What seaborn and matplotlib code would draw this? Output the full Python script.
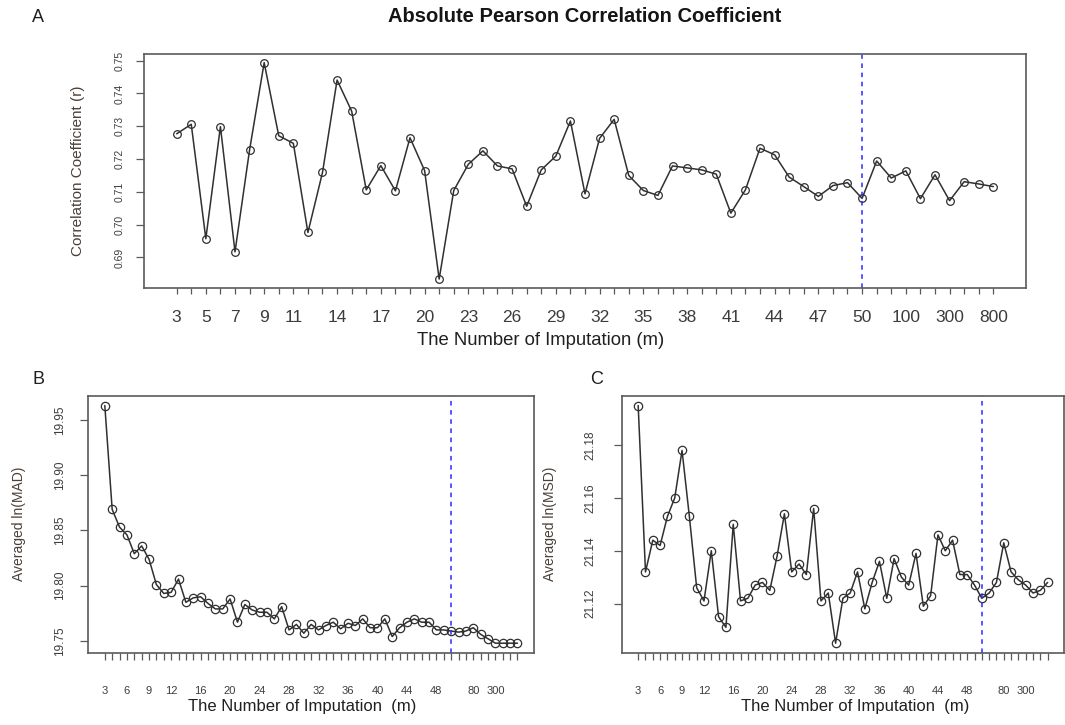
import numpy as np
import pandas as pd
import matplotlib
matplotlib.use("Agg")
import matplotlib.pyplot as plt
import seaborn as sns

# ---- data -------------------------------------------------------------
m_a = list(range(3, 51)) + [60, 80, 100, 150, 200, 300, 400, 500, 800]
m_bc = list(range(3, 51)) + [60, 70, 80, 100, 200, 300, 400, 500, 800]

shown_a = [3, 5, 7, 9, 11, 14, 17, 20, 23, 26, 29, 32, 35, 38, 41, 44, 47,
           50, 100, 300, 800]
shown_bc = [3, 6, 9, 12, 16, 20, 24, 28, 32, 36, 40, 44, 48, 80, 300]

r_values = [0.7277, 0.7306, 0.6957, 0.7299, 0.6917, 0.7228, 0.7494, 0.7271,
            0.7248, 0.6976, 0.7159, 0.7441, 0.7346, 0.7106, 0.7180, 0.7103,
            0.7265, 0.7165, 0.6834, 0.7104, 0.7184, 0.7225, 0.7179, 0.7170,
            0.7056, 0.7167, 0.7209, 0.7316, 0.7094, 0.7263, 0.7321, 0.7150,
            0.7104, 0.7089, 0.7179, 0.7173, 0.7167, 0.7154, 0.7035, 0.7106,
            0.7233, 0.7213, 0.7145, 0.7116, 0.7086, 0.7119, 0.7128, 0.7080,
            0.7194, 0.7142, 0.7164, 0.7079, 0.7152, 0.7073, 0.7131, 0.7124,
            0.7116]

mad_values = [19.963, 19.869, 19.853, 19.846, 19.829, 19.836, 19.824, 19.801,
              19.793, 19.794, 19.806, 19.785, 19.789, 19.790, 19.784, 19.779,
              19.779, 19.788, 19.767, 19.783, 19.778, 19.776, 19.776, 19.770,
              19.781, 19.760, 19.765, 19.757, 19.765, 19.760, 19.764, 19.767,
              19.761, 19.766, 19.764, 19.770, 19.762, 19.762, 19.770, 19.754,
              19.762, 19.767, 19.770, 19.767, 19.767, 19.760, 19.760, 19.759,
              19.758, 19.759, 19.762, 19.756, 19.752, 19.748, 19.748, 19.748,
              19.748]

msd_values = [21.195, 21.132, 21.144, 21.142, 21.153, 21.160, 21.178, 21.153,
              21.126, 21.121, 21.140, 21.115, 21.111, 21.150, 21.121, 21.122,
              21.127, 21.128, 21.125, 21.138, 21.154, 21.132, 21.135, 21.131,
              21.156, 21.121, 21.124, 21.105, 21.122, 21.124, 21.132, 21.118,
              21.128, 21.136, 21.122, 21.137, 21.130, 21.127, 21.139, 21.119,
              21.123, 21.146, 21.140, 21.144, 21.131, 21.131, 21.127, 21.122,
              21.124, 21.128, 21.143, 21.132, 21.129, 21.127, 21.124, 21.125,
              21.128]

yticks_a = [0.69, 0.70, 0.71, 0.72, 0.73, 0.74, 0.75]
yticks_b = [19.75, 19.80, 19.85, 19.90, 19.95]
yticks_c = [21.12, 21.14, 21.16, 21.18]

cutoff_m = 50

# ---- style ------------------------------------------------------------
sns.set_style("ticks")
plt.rcParams["font.family"] = ["Liberation Sans", "DejaVu Sans"]

W, H = 1065, 725
fig = plt.figure(figsize=(W / 100, H / 100), dpi=100)

TXT = "#3c3c3c"
LINE = "#303030"
FRAME = "#5a5a5a"


def px_axes(left, top, right, bottom):
    return fig.add_axes([left / W, 1 - bottom / H, (right - left) / W,
                         (bottom - top) / H])


def draw_panel(ax, m_list, values, shown, yticks, xlab, ylab, xlab_px,
               ylab_px, xt_size, yt_size, xl_size, yl_size, ms,
               xtick_len, ytick_len, xpad, ypad):
    df = pd.DataFrame({"pos": np.arange(len(m_list)), "m": m_list,
                       "value": values})
    sns.lineplot(data=df, x="pos", y="value", ax=ax, color=LINE,
                 linewidth=1.1, marker="o", markersize=ms,
                 markerfacecolor="none", markeredgecolor=LINE,
                 markeredgewidth=0.9)
    cut = df.loc[df["m"] == cutoff_m, "pos"].iloc[0]
    ax.axvline(cut, color="#2a2aff", linestyle=(0, (3, 3)), linewidth=1.1)
    ax.margins(x=0.04, y=0.04)

    ax.set_xticks(df["pos"])
    ax.set_xticklabels([str(m) if m in shown else "" for m in m_list],
                       fontsize=xt_size, color=TXT)
    ax.set_yticks(yticks)
    ax.set_yticklabels([f"{v:.2f}" for v in yticks], rotation=90,
                       va="center", fontsize=yt_size, color=TXT)
    ax.tick_params(axis="x", length=xtick_len, width=0.9, color=FRAME,
                   pad=xpad, direction="out")
    ax.tick_params(axis="y", length=ytick_len, width=0.9, color=FRAME,
                   pad=ypad, direction="out")
    for s in ax.spines.values():
        s.set_visible(True)
        s.set_color(FRAME)
        s.set_linewidth(1.2)

    # axis titles positioned in figure pixels
    bbox = ax.get_position()
    ax.set_xlabel(xlab, fontsize=xl_size, color="#202020")
    ax.xaxis.label.set_va("center")
    fx = (xlab_px[0] / W - bbox.x0) / bbox.width
    fy = ((1 - xlab_px[1] / H) - bbox.y0) / bbox.height
    ax.xaxis.set_label_coords(fx, fy)

    ax.set_ylabel(ylab, fontsize=yl_size, color="#4a4038")
    ax.yaxis.label.set_va("center")
    gx = (ylab_px[0] / W - bbox.x0) / bbox.width
    gy = ((1 - ylab_px[1] / H) - bbox.y0) / bbox.height
    ax.yaxis.set_label_coords(gx, gy)


# Panel A: absolute Pearson correlation
ax_a = px_axes(144, 54, 1026, 287.7)
draw_panel(ax_a, m_a, r_values, shown_a, yticks_a,
           "The Number of Imputation (m)", "Correlation Coefficient (r)",
           (541, 340), (78, 171),
           xt_size=12.5, yt_size=7.5, xl_size=13.3, yl_size=11, ms=5.5,
           xtick_len=4, ytick_len=6, xpad=12, ypad=8)
fig.text(585 / W, 1 - 16 / H, "Absolute Pearson Correlation Coefficient",
         ha="center", va="center", fontsize=14.5, fontweight="bold",
         color="#151515")
fig.text(38 / W, 1 - 18 / H, "A", ha="center", va="center", fontsize=13,
         color="#202020")

# Panel B: averaged ln(MAD)
ax_b = px_axes(88.3, 396, 534, 652.7)
draw_panel(ax_b, m_bc, mad_values, shown_bc, yticks_b,
           "The Number of Imputation  (m)", "Averaged ln(MAD)",
           (302, 706), (19, 524),
           xt_size=8, yt_size=8.5, xl_size=12, yl_size=10, ms=6,
           xtick_len=5, ytick_len=6, xpad=19, ypad=10)
fig.text(38 / W, 1 - 379 / H, "B", ha="center", va="center", fontsize=13,
         color="#202020")

# Panel C: averaged ln(MSD)
ax_c = px_axes(621.8, 396, 1064, 652.7)
draw_panel(ax_c, m_bc, msd_values, shown_bc, yticks_c,
           "The Number of Imputation  (m)", "Averaged ln(MSD)",
           (855, 706), (550, 524),
           xt_size=8, yt_size=8.5, xl_size=12, yl_size=10, ms=6,
           xtick_len=5, ytick_len=6, xpad=19, ypad=12)
fig.text(597 / W, 1 - 379 / H, "C", ha="center", va="center", fontsize=13,
         color="#202020")

fig.savefig("out.png", dpi=100, facecolor="white")
